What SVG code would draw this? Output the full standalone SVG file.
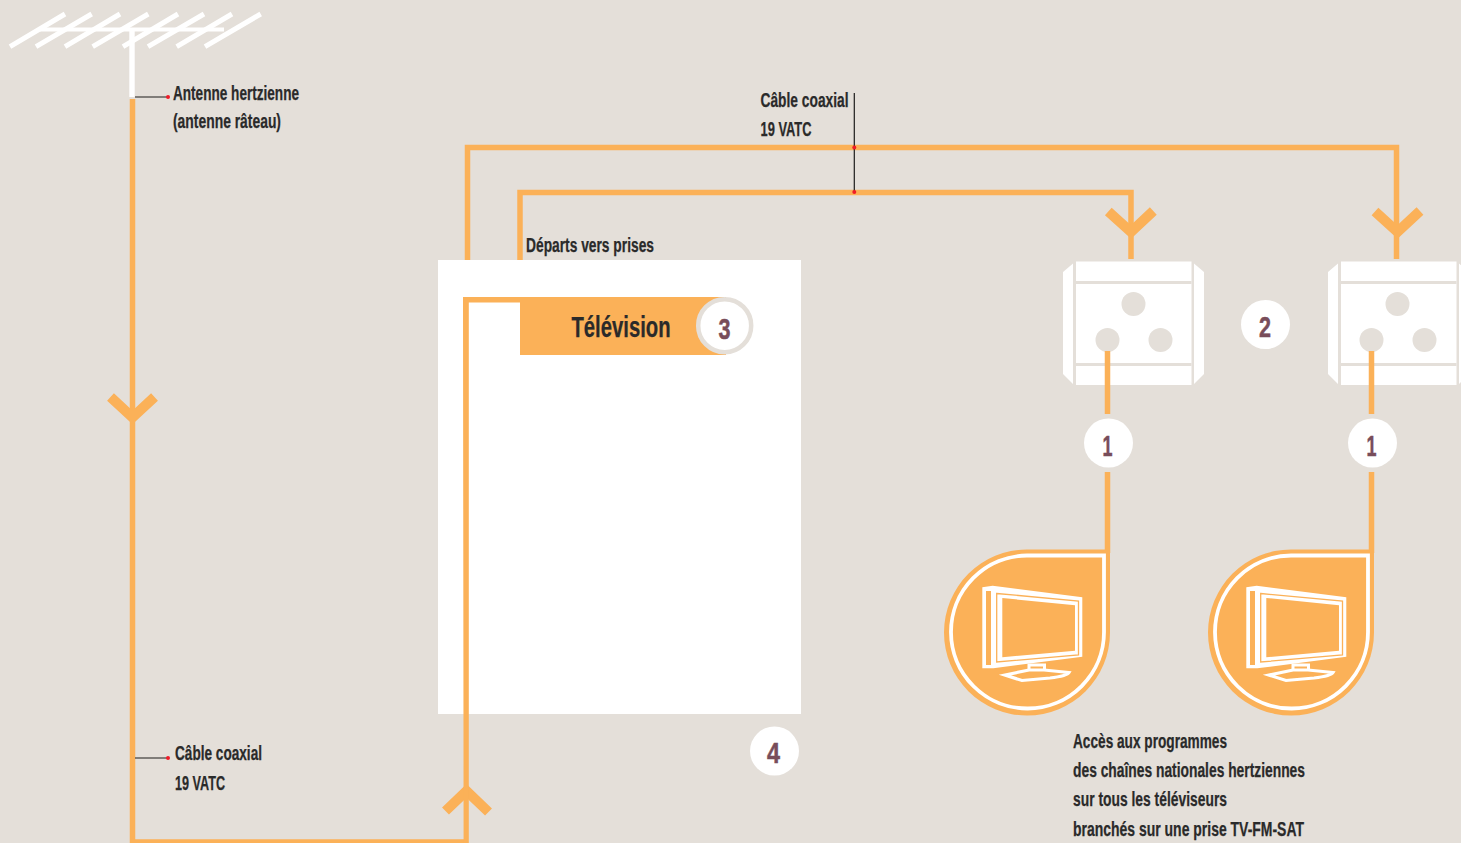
<svg xmlns="http://www.w3.org/2000/svg" width="1461" height="843" viewBox="0 0 1461 843">
<defs>
<style>
.w{fill:none;stroke:#fbb158;stroke-width:5.500}
.a{fill:none;stroke:#fbb158;stroke-width:10}
.l{fill:none;stroke:#1d1d1b;stroke-width:1.2}
.d{fill:#f01c28}
.t{font-family:"Liberation Sans",Arial,sans-serif;font-weight:700;font-size:19.500px;fill:#2a2a2a;stroke:#2a2a2a;stroke-width:.25}
.n{font-family:"Liberation Sans",Arial,sans-serif;font-weight:700;font-size:29px;fill:#784d5a;stroke:#784d5a;stroke-width:.5;text-anchor:middle}
.bg{fill:#e4dfd9}
.of{fill:#fbb158}
</style>
<g id="socket-body">
<rect x="1076" y="261.500" width="115.500" height="123.500" fill="#fff"/>
<path d="M1073 263.500V384L1063 374V272ZM1194 263.500V384L1204 374V272Z" fill="#fff"/>
<rect class="bg" x="1076" y="281" width="115.500" height="3"/>
<rect class="bg" x="1076" y="363" width="115.500" height="3"/>
</g>
<g id="socket-holes">
<circle class="bg" cx="1133.500" cy="304" r="12"/>
<circle class="bg" cx="1107.500" cy="340" r="12"/>
<circle class="bg" cx="1160.500" cy="340" r="12"/>
</g>
<g id="tv">
<path class="of" d="M1110 549.500H1027A83 83 0 1 0 1110 632.500Z"/>
<path d="M1104 555.500H1027A76.500 76.500 0 1 0 1104 632Z" fill="none" stroke="#fff" stroke-width="3.800"/>
<path d="M982.300 587.300L992.700 585.700L1082.300 597.300V656.700L993.300 668.300H982.300Z" fill="#fff"/>
<rect class="of" x="986" y="591" width="5" height="74"/>
<path d="M996.700 593.500L1078.500 601V655L996.700 662Z" fill="none" stroke="#fbb158" stroke-width="1.300"/>
<path class="of" d="M1002.300 598L1075 605.300V650.700L1002.300 657.300Z"/>
<rect x="1029" y="665" width="15.500" height="9" fill="#fbb158" stroke="#fff" stroke-width="3"/>
<path d="M1005 675L1029 670H1044L1069 672.500Q1067 676 1050 678L1022 680.500Z" fill="#fbb158" stroke="#fff" stroke-width="3.200"/>
</g>
</defs>
<rect width="1461" height="843" class="bg"/>
<g id="connectors">
<path class="w" d="M132.500 99V842H466M467.500 262V147.500H1396.500V259M520 262V192.500H1131V259"/>
<path class="a" d="M110.500 397L132.500 417.500L154.500 397"/>
<path class="a" d="M445.500 811L466.500 791L488.500 812"/>
<path class="a" d="M1108.300 211.500L1131 232L1153.300 211"/>
<path class="a" d="M1375 211.500L1397.500 232L1420 211"/>
<path class="l" d="M135 97H168M135 758H168M854.300 93V192"/>
<circle class="d" cx="168" cy="97" r="2"/>
<circle class="d" cx="168" cy="758" r="2"/>
<circle class="d" cx="854.300" cy="147.500" r="2"/>
<circle class="d" cx="854.300" cy="192" r="2"/>
</g>
<g id="antenna" fill="none" stroke="#fff">
<path stroke-width="4.200" d="M40 29.500H224"/>
<path stroke-width="5" d="M10 46.700L65 14M36 46.700L91.700 14M65 46.700L120 14M92.700 46.700L148.300 14M123 46.700L178 14M148 46.700L204 14M176.700 46.700L232 14M205 46.700L260.700 14"/>
<path stroke-width="5.400" d="M132 30V97"/>
</g>
<g id="box4">
<rect x="438" y="260" width="363" height="454" fill="#fff"/>
</g>
<g id="tv-label">
<path class="of" d="M463 297H726V355H520V302.500H468.800V843H463.600Z"/>
<circle cx="724.700" cy="325.700" r="26.500" fill="#fff" stroke="#e4dfd9" stroke-width="4.500"/>
<text x="621" y="336.700" class="t" style="font-size:29px" textLength="99" lengthAdjust="spacingAndGlyphs" text-anchor="middle">Télévision</text>
<text x="724.500" y="339" class="n" textLength="12" lengthAdjust="spacingAndGlyphs">3</text>
</g>
<g id="socket1"><use href="#socket-body"/><use href="#socket-holes"/></g>
<g id="socket2"><use href="#socket-body" x="265"/><use href="#socket-holes" x="264"/></g>
<g id="feeds"><path class="w" d="M1107.500 351V414M1107.500 472V553M1371.500 351V414M1371.500 472V553"/></g>
<g id="tv1"><use href="#tv"/></g>
<g id="tv2"><use href="#tv" x="264"/></g>
<g id="badges">
<circle cx="1108.500" cy="443" r="24.500" fill="#fff"/>
<circle cx="1372.500" cy="443" r="24.500" fill="#fff"/>
<circle cx="1265.500" cy="324.500" r="24.500" fill="#fff"/>
<circle cx="774.500" cy="751" r="24.500" fill="#fff"/>
<text x="1107.500" y="456" class="n" textLength="10" lengthAdjust="spacingAndGlyphs">1</text>
<text x="1371.500" y="456" class="n" textLength="10" lengthAdjust="spacingAndGlyphs">1</text>
<text x="1265" y="337" class="n" textLength="12" lengthAdjust="spacingAndGlyphs">2</text>
<text x="773.500" y="763" class="n" textLength="13" lengthAdjust="spacingAndGlyphs">4</text>
</g>
<g id="labels">
<text class="t" x="173" y="100" textLength="126" lengthAdjust="spacingAndGlyphs">Antenne hertzienne</text>
<text class="t" x="173" y="128" textLength="108" lengthAdjust="spacingAndGlyphs">(antenne râteau)</text>
<text class="t" x="760.500" y="106.500" textLength="88" lengthAdjust="spacingAndGlyphs">Câble coaxial</text>
<text class="t" x="760.500" y="135.500" textLength="51" lengthAdjust="spacingAndGlyphs">19 VATC</text>
<text class="t" x="526" y="251.500" textLength="128" lengthAdjust="spacingAndGlyphs">Départs vers prises</text>
<text class="t" x="175" y="759.500" textLength="87" lengthAdjust="spacingAndGlyphs">Câble coaxial</text>
<text class="t" x="175" y="789.500" textLength="50" lengthAdjust="spacingAndGlyphs">19 VATC</text>
<text class="t" x="1073" y="747.500" textLength="154" lengthAdjust="spacingAndGlyphs">Accès aux programmes</text>
<text class="t" x="1073" y="776.500" textLength="232" lengthAdjust="spacingAndGlyphs">des chaînes nationales hertziennes</text>
<text class="t" x="1073" y="805.500" textLength="154" lengthAdjust="spacingAndGlyphs">sur tous les téléviseurs</text>
<text class="t" x="1073" y="835.500" textLength="231" lengthAdjust="spacingAndGlyphs">branchés sur une prise TV-FM-SAT</text>
</g>
</svg>
